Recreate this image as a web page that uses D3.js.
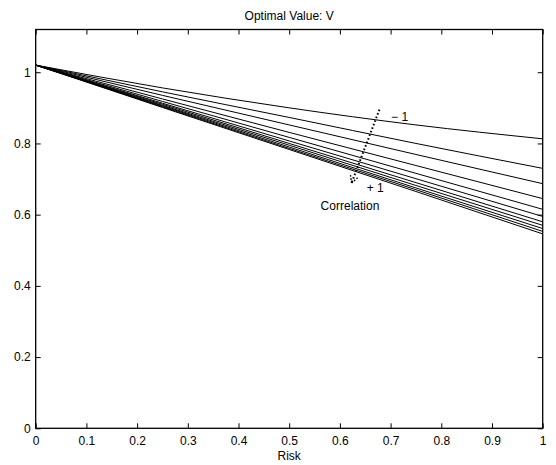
<!DOCTYPE html>
<html>
<head>
<meta charset="utf-8">
<script src="https://cdn.jsdelivr.net/npm/d3@7"></script>
<style>
  html, body { margin: 0; padding: 0; background: #fff; }
  svg { display: block; }
  text { font-family: "Liberation Sans", Arial, Helvetica, sans-serif; font-size: 12px; fill: #000; }
</style>
</head>
<body>
<svg id="chart" width="556" height="465"></svg>
<script>
// ---- data ----
const riskValues = [0, 0.25, 0.5, 0.75, 1];
const correlations = [-1, -0.8, -0.6, -0.4, -0.2, 0, 0.2, 0.4, 0.6, 0.8, 1];
const valueSeries = [
  [1.02, 0.956, 0.900, 0.852, 0.813],
  [1.02, 0.945, 0.873, 0.800, 0.730],
  [1.02, 0.935, 0.852, 0.769, 0.687],
  [1.02, 0.925, 0.831, 0.738, 0.645],
  [1.02, 0.918, 0.817, 0.716, 0.615],
  [1.02, 0.913, 0.807, 0.701, 0.595],
  [1.02, 0.910, 0.800, 0.690, 0.580],
  [1.02, 0.907, 0.795, 0.682, 0.570],
  [1.02, 0.905, 0.790, 0.675, 0.561],
  [1.02, 0.903, 0.786, 0.670, 0.553],
  [1.02, 0.901, 0.783, 0.665, 0.546]
];
const xTicks = [0, 0.1, 0.2, 0.3, 0.4, 0.5, 0.6, 0.7, 0.8, 0.9, 1];
const xTickLabels = ["0", "0.1", "0.2", "0.3", "0.4", "0.5", "0.6", "0.7", "0.8", "0.9", "1"];
const yTicks = [0, 0.2, 0.4, 0.6, 0.8, 1];
const yTickLabels = ["0", "0.2", "0.4", "0.6", "0.8", "1"];
const xDomain = [0, 1];
const yDomain = [0, 1.12];
const titleText = "Optimal Value: V";
const xLabelText = "Risk";

// ---- layout ----
const svg = d3.select("#chart");
const margin = { left: 35.7, top: 29.5, right: 556 - 542.7, bottom: 465 - 428.3 };
const W = 556 - margin.left - margin.right;
const H = 465 - margin.top - margin.bottom;

const x = d3.scaleLinear().domain(xDomain).range([0, W]);
const y = d3.scaleLinear().domain(yDomain).range([H, 0]);

const g = svg.append("g").attr("transform", `translate(${margin.left},${margin.top})`);

// axes with inward ticks on all four sides
const tickLen = 5;
const axB = g.append("g").attr("transform", `translate(0,${H})`)
  .call(d3.axisBottom(x).tickValues(xTicks).tickFormat((d, i) => xTickLabels[i])
    .tickSizeInner(-tickLen).tickSizeOuter(0).tickPadding(8));
const axT = g.append("g")
  .call(d3.axisTop(x).tickValues(xTicks).tickFormat("")
    .tickSizeInner(-tickLen).tickSizeOuter(0));
const axL = g.append("g")
  .call(d3.axisLeft(y).tickValues(yTicks).tickFormat((d, i) => yTickLabels[i])
    .tickSizeInner(-tickLen).tickSizeOuter(0).tickPadding(5));
const axR = g.append("g").attr("transform", `translate(${W},0)`)
  .call(d3.axisRight(y).tickValues(yTicks).tickFormat("")
    .tickSizeInner(-tickLen).tickSizeOuter(0));

[axB, axT, axL, axR].forEach(a => {
  a.select(".domain").remove();
  a.selectAll("line").attr("stroke", "#000").attr("stroke-width", 1);
  a.selectAll("text").attr("font-size", 12).attr("font-family", '"Liberation Sans", Arial, sans-serif').attr("fill", "#000");
});

// series lines
const line = d3.line()
  .x((d, i) => x(riskValues[i]))
  .y(d => y(d))
  .curve(d3.curveMonotoneX);

g.append("g").selectAll("path")
  .data(valueSeries)
  .join("path")
  .attr("d", d => line(d))
  .attr("fill", "none")
  .attr("stroke", "#000")
  .attr("stroke-width", 1);

// plot box
g.append("rect")
  .attr("x", 0).attr("y", 0).attr("width", W).attr("height", H)
  .attr("fill", "none").attr("stroke", "#000").attr("stroke-width", 1.3);

// annotation: dotted arrow from correlation -1 to +1
const arrowFrom = [0.678, 0.895];
const arrowTo = [0.623, 0.689];
const x1 = x(arrowFrom[0]), y1 = y(arrowFrom[1]);
const x2 = x(arrowTo[0]), y2 = y(arrowTo[1]);
g.append("line")
  .attr("x1", x1).attr("y1", y1).attr("x2", x2).attr("y2", y2)
  .attr("stroke", "#000").attr("stroke-width", 2)
  .attr("stroke-dasharray", "1.6,2.2");
const ang = Math.atan2(y1 - y2, x1 - x2);
const headLen = 8, spread = 0.5;
[ang - spread, ang + spread].forEach(a => {
  g.append("line")
    .attr("x1", x2).attr("y1", y2)
    .attr("x2", x2 + headLen * Math.cos(a)).attr("y2", y2 + headLen * Math.sin(a))
    .attr("stroke", "#000").attr("stroke-width", 1.4)
    .attr("stroke-dasharray", "1.6,1.6");
});

g.append("text").attr("x", x(0.701)).attr("y", y(0.862)).text("\u2212 1");
g.append("text").attr("x", x(0.653)).attr("y", y(0.665)).text("+ 1");
g.append("text").attr("x", x(0.562)).attr("y", y(0.612)).text("Correlation");

// title & axis label
svg.append("text")
  .attr("x", margin.left + W / 2).attr("y", 19.5)
  .attr("text-anchor", "middle").text(titleText);
svg.append("text")
  .attr("x", margin.left + W / 2).attr("y", 460)
  .attr("text-anchor", "middle").text(xLabelText);
</script>
</body>
</html>
